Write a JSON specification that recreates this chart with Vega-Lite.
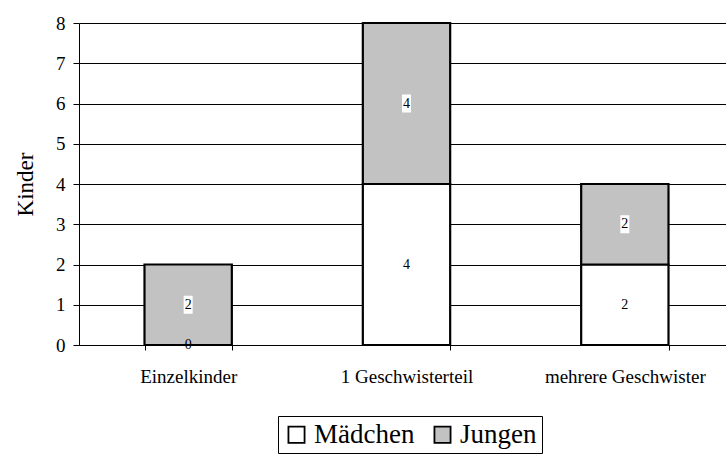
{
  "$schema": "https://vega.github.io/schema/vega-lite/v6.json",
  "width": 647,
  "height": 322,
  "autosize": {"type": "none"},
  "padding": {"left": 79, "top": 23, "right": 0, "bottom": 109},
  "background": "white",
  "config": {
    "view": {"stroke": null},
    "font": "Liberation Serif",
    "axis": {"labelFont": "Liberation Serif", "titleFont": "Liberation Serif"},
    "legend": {"labelFont": "Liberation Serif"},
    "text": {"font": "Liberation Serif"}
  },
  "data": {
    "values": [
      {"Gruppe": "Einzelkinder", "Geschlecht": "Mädchen", "Kinder": 0},
      {"Gruppe": "Einzelkinder", "Geschlecht": "Jungen", "Kinder": 2},
      {"Gruppe": "1 Geschwisterteil", "Geschlecht": "Mädchen", "Kinder": 4},
      {"Gruppe": "1 Geschwisterteil", "Geschlecht": "Jungen", "Kinder": 4},
      {"Gruppe": "mehrere Geschwister", "Geschlecht": "Mädchen", "Kinder": 2},
      {"Gruppe": "mehrere Geschwister", "Geschlecht": "Jungen", "Kinder": 2}
    ]
  },
  "transform": [
    {"stack": "Kinder", "groupby": ["Gruppe"], "sort": [{"field": "Geschlecht", "order": "descending"}], "as": ["y0", "y1"]},
    {"calculate": "(datum.y0 + datum.y1) / 2", "as": "mitte"}
  ],
  "encoding": {
    "x": {
      "field": "Gruppe",
      "type": "nominal",
      "sort": ["Einzelkinder", "1 Geschwisterteil", "mehrere Geschwister"],
      "scale": {"range": [0, 655], "paddingInner": 0.6, "paddingOuter": 0.3},
      "axis": {
        "title": null,
        "labelAngle": 0,
        "labelFontSize": 19,
        "labelColor": "black",
        "labelPadding": 17,
        "domainColor": "black",
        "tickColor": "black",
        "tickBand": "extent",
        "tickSize": 5
      }
    }
  },
  "layer": [
    {
      "mark": {"type": "bar", "stroke": "black", "strokeWidth": 2.2},
      "encoding": {
        "y": {
          "field": "y0",
          "type": "quantitative",
          "scale": {"domain": [0, 8], "nice": false},
          "axis": {
            "title": "Kinder",
            "titleFontSize": 23,
            "titleFontWeight": "normal",
            "titleColor": "black",
            "titlePadding": 18,
            "values": [0, 1, 2, 3, 4, 5, 6, 7, 8],
            "labelFontSize": 19,
            "labelColor": "black",
            "labelPadding": 8,
            "grid": true,
            "gridColor": "black",
            "gridOpacity": 1,
            "domainColor": "black",
            "tickColor": "black",
            "tickSize": 6
          }
        },
        "y2": {"field": "y1"},
        "color": {
          "field": "Geschlecht",
          "type": "nominal",
          "scale": {"domain": ["Mädchen", "Jungen"], "range": ["white", "#c2c2c2"]},
          "legend": {
            "title": null,
            "orient": "none",
            "legendX": 199,
            "legendY": 393,
            "direction": "horizontal",
            "symbolType": "square",
            "symbolSize": 260,
            "symbolStrokeColor": "black",
            "symbolStrokeWidth": 1.8,
            "symbolOpacity": 1,
            "labelFontSize": 27,
            "labelColor": "black",
            "labelOffset": 4,
            "columnPadding": 14,
            "strokeColor": "black",
            "padding": 5
          }
        }
      }
    },
    {
      "transform": [{"filter": "datum.Geschlecht === 'Jungen'"}],
      "mark": {"type": "tick", "orient": "vertical", "thickness": 9, "size": 18, "color": "white", "opacity": 1},
      "encoding": {
        "y": {"field": "mitte", "type": "quantitative"}
      }
    },
    {
      "mark": {"type": "text", "fontSize": 14, "color": "black", "baseline": "middle"},
      "encoding": {
        "y": {"field": "mitte", "type": "quantitative"},
        "text": {"field": "Kinder", "type": "quantitative"}
      }
    }
  ]
}
